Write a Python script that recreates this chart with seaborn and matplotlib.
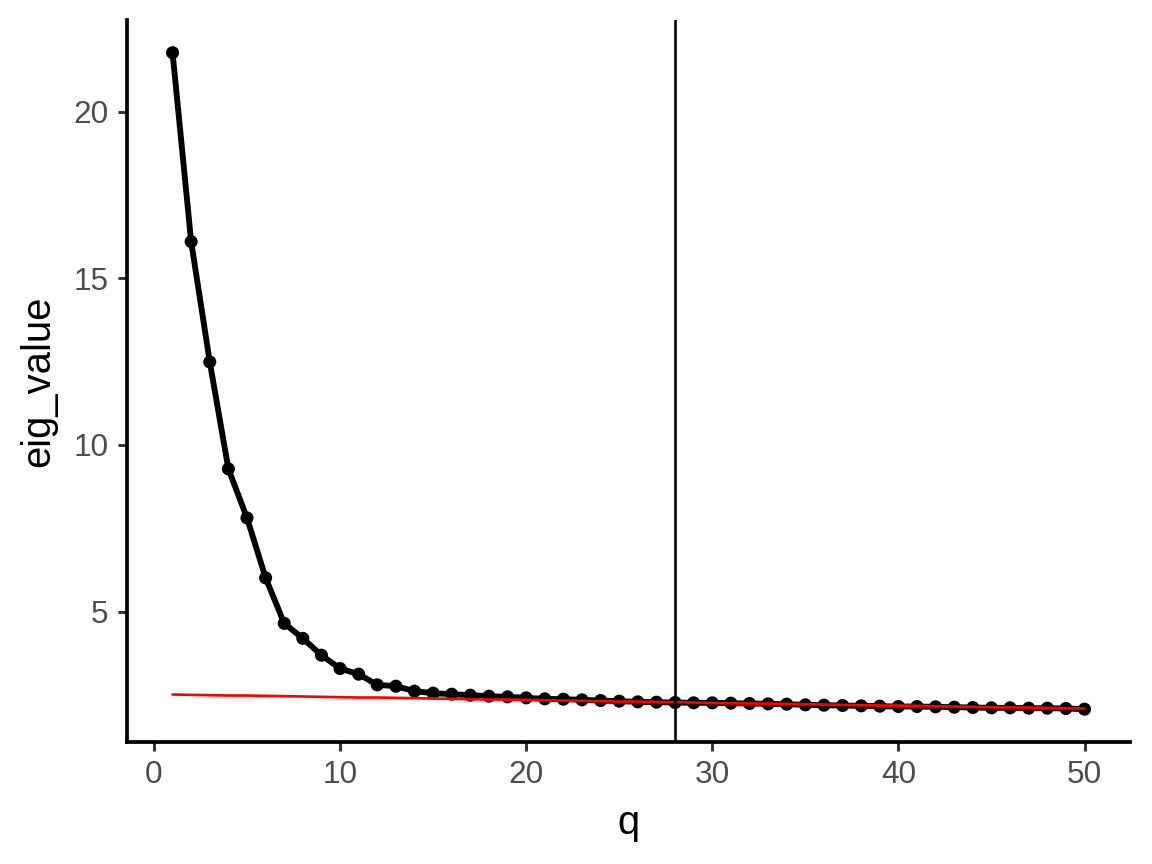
import numpy as np
import pandas as pd
import matplotlib
matplotlib.use("Agg")
import matplotlib.pyplot as plt
import seaborn as sns

q = list(range(1, 51))
eig_value = [21.77, 16.10, 12.49, 9.28, 7.81, 6.01, 4.645, 4.195, 3.69, 3.29,
             3.12, 2.80, 2.76, 2.61, 2.55, 2.52, 2.49, 2.46, 2.44, 2.41,
             2.38, 2.37, 2.35, 2.33, 2.31, 2.29, 2.28, 2.27, 2.26, 2.26,
             2.25, 2.24, 2.23, 2.22, 2.20, 2.19, 2.18, 2.17, 2.16, 2.15,
             2.15, 2.14, 2.13, 2.12, 2.11, 2.11, 2.10, 2.10, 2.09, 2.07]
red_line = [2.51, 2.50, 2.49, 2.48, 2.48, 2.47, 2.46, 2.45, 2.44, 2.43,
            2.42, 2.42, 2.41, 2.40, 2.39, 2.38, 2.37, 2.36, 2.36, 2.35,
            2.34, 2.33, 2.32, 2.31, 2.30, 2.30, 2.29, 2.28, 2.27, 2.26,
            2.25, 2.24, 2.24, 2.23, 2.22, 2.21, 2.20, 2.19, 2.18, 2.18,
            2.17, 2.16, 2.15, 2.14, 2.13, 2.12, 2.12, 2.11, 2.10, 2.09]
cutoff_q = 28
x_ticks = [0, 10, 20, 30, 40, 50]
y_ticks = [5, 10, 15, 20]

df = pd.DataFrame({"q": q, "eig_value": eig_value, "red": red_line})

sns.set_theme(style="ticks")
plt.rcParams["font.family"] = ["Liberation Sans", "DejaVu Sans"]

fig = plt.figure(figsize=(6, 4.5), dpi=192)
ax = fig.add_axes([0.1102, 0.1412, 0.981 - 0.1102, 0.977 - 0.1412])

sns.lineplot(data=df, x="q", y="eig_value", ax=ax, color="black", linewidth=2.2, zorder=3)
sns.scatterplot(data=df, x="q", y="eig_value", ax=ax, color="black", s=24, edgecolor="none", zorder=4)
sns.lineplot(data=df, x="q", y="red", ax=ax, color="red", linewidth=1.0, zorder=5)
ax.axvline(cutoff_q, color="black", linewidth=1.0, zorder=6)

ymin, ymax = min(eig_value), max(eig_value)
yr = ymax - ymin
ax.set_ylim(ymin - 0.05 * yr, ymax + 0.05 * yr)
ax.set_xlim(1 - 0.05 * 49, 50 + 0.05 * 49)
ax.set_xticks(x_ticks)
ax.set_yticks(y_ticks)

ax.set_xlabel("q", fontsize=15, color="black", labelpad=5)
ax.set_ylabel("eig_value", fontsize=15, color="black", labelpad=6)
ax.tick_params(axis="both", labelsize=11.8, labelcolor="#4D4D4D", colors="#333333",
               length=3.4, width=1.1, pad=3.5)
ax.tick_params(axis="both", labelcolor="#4D4D4D")
for s in ["top", "right"]:
    ax.spines[s].set_visible(False)
for s in ["left", "bottom"]:
    ax.spines[s].set_color("black")
    ax.spines[s].set_linewidth(1.4)

fig.savefig("out.png", dpi=192)
